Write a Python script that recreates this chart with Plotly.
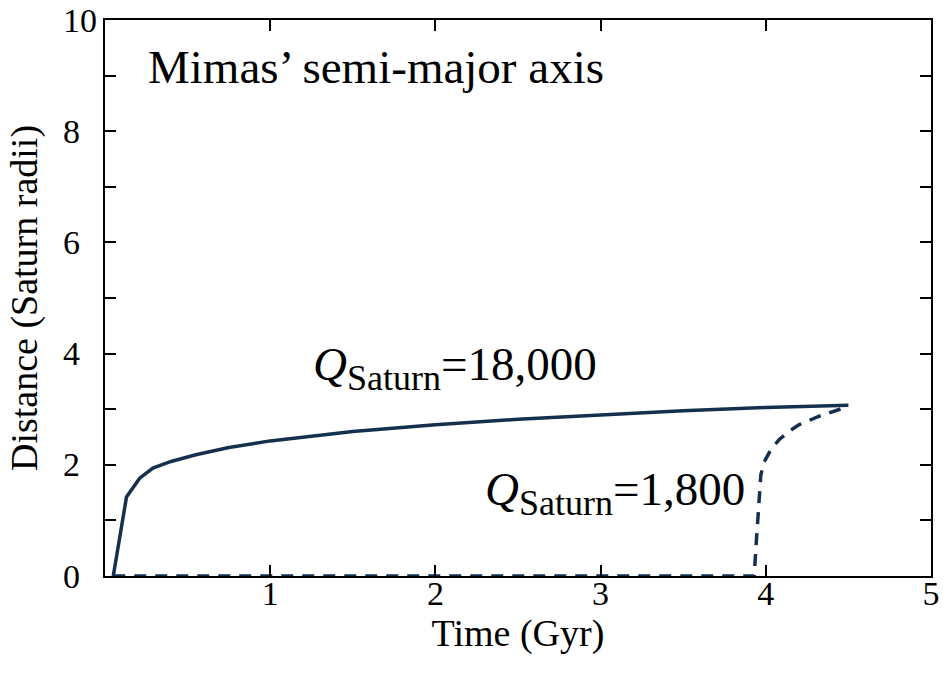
import plotly.graph_objects as go

# Q_Saturn = 18,000 (solid)
t_high = [0.05, 0.13, 0.21, 0.29, 0.40, 0.55, 0.75, 1.0, 1.5, 2.0, 2.5, 3.0, 3.5, 4.0, 4.5]
a_high = [0.0, 1.42, 1.76, 1.94, 2.06, 2.18, 2.31, 2.43, 2.60, 2.72, 2.82, 2.90, 2.97, 3.03, 3.07]

# Q_Saturn = 1,800 (dashed)
t_low = [0.05, 3.93, 3.94, 3.95, 3.96, 3.97, 3.99, 4.03, 4.08, 4.14, 4.20, 4.26, 4.32, 4.38, 4.44, 4.50]
a_low = [0.0, 0.0, 0.5, 1.0, 1.5, 1.82, 2.05, 2.27, 2.45, 2.60, 2.72, 2.80, 2.87, 2.93, 2.99, 3.07]

x_ticks = [1, 2, 3, 4, 5]
y_ticks = [0, 2, 4, 6, 8, 10]

line_color = "#15304f"
font = "Liberation Serif"

fig = go.Figure()
fig.add_trace(go.Scatter(x=t_low, y=a_low, mode="lines", cliponaxis=False,
                         line=dict(color=line_color, width=3.5, dash="12px,9px"),
                         showlegend=False))
fig.add_trace(go.Scatter(x=t_high, y=a_high, mode="lines", cliponaxis=False,
                         line=dict(color=line_color, width=3.5),
                         showlegend=False))

axis_common = dict(showline=True, linecolor="black", linewidth=2, mirror="ticks",
                   ticks="inside", ticklen=11, tickwidth=1.5, tickcolor="black",
                   showgrid=False, zeroline=False, ticklabeloverflow="allow",
                   tickfont=dict(family=font, size=34, color="black"))

fig.update_xaxes(range=[0, 5], tickvals=x_ticks, ticktext=[str(v) for v in x_ticks],
                 title=dict(text="Time (Gyr)", font=dict(family=font, size=38, color="black"), standoff=0),
                 ticklabelstandoff=-14, **axis_common)

fig.update_yaxes(range=[0, 10], tickvals=y_ticks, showticklabels=False,
                 minor=dict(dtick=1, ticks="inside", ticklen=11, tickwidth=1.5, tickcolor="black"),
                 title=dict(text="Distance (Saturn radii)", font=dict(family=font, size=38, color="black"), standoff=54),
                 **axis_common)

# left-aligned y tick labels (as in the reference)
for v in y_ticks:
    fig.add_annotation(x=-0.0535, y=v, xref="paper", yref="y", xanchor="left", yanchor="middle",
                       text=str(v), showarrow=False,
                       font=dict(family=font, size=34, color="black"))

fig.add_annotation(x=0.05, y=0.916, xref="paper", yref="paper", xanchor="left", yanchor="middle",
                   text="Mimas’ semi-major axis", showarrow=False,
                   font=dict(family=font, size=47, color="black"))
fig.add_annotation(x=1.245, y=3.74, xref="x", yref="y", xanchor="left", yanchor="middle",
                   text="<i>Q</i><sub><span style='font-size:36px'>Saturn</span></sub>=18,000", showarrow=False,
                   font=dict(family=font, size=47, color="black"))
fig.add_annotation(x=2.29, y=1.5, xref="x", yref="y", xanchor="left", yanchor="middle",
                   text="<i>Q</i><sub><span style='font-size:36px'>Saturn</span></sub>=1,800", showarrow=False,
                   font=dict(family=font, size=47, color="black"))

fig.update_layout(width=946, height=676, margin=dict(l=105, r=6, t=20, b=100),
                  plot_bgcolor="white", paper_bgcolor="white")

fig.write_html("out.html")
